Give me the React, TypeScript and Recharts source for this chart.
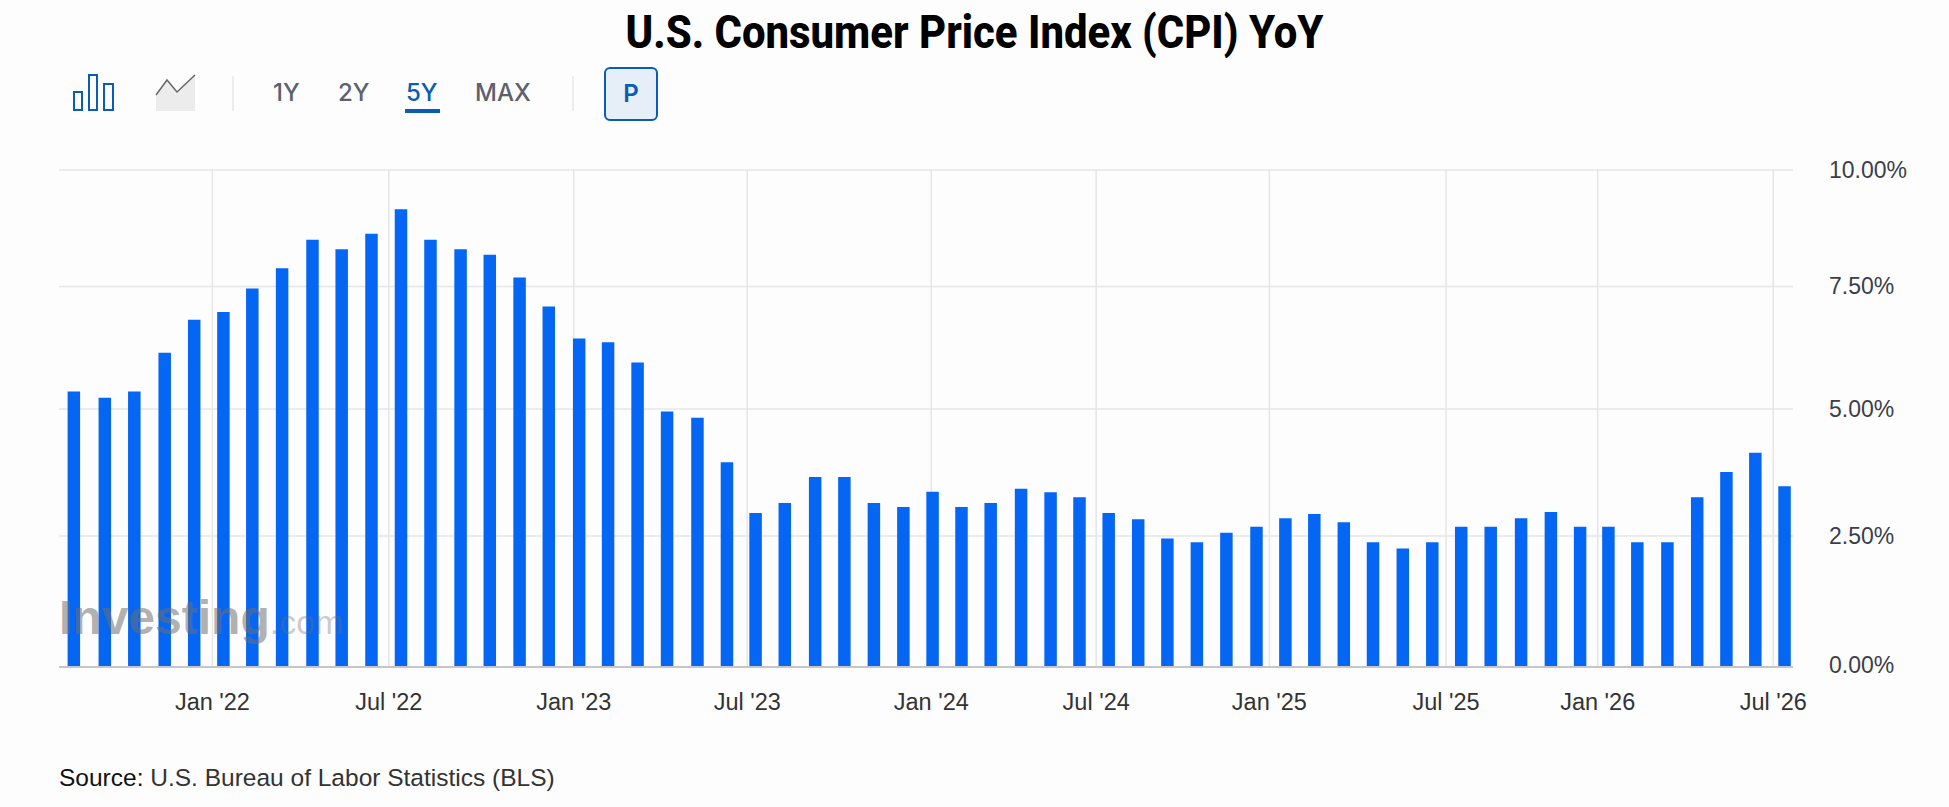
import { Bar, BarChart, CartesianGrid, XAxis, YAxis } from 'recharts';

// CPI YoY per release, oldest first
const cpiValues = [
    5.36, 5.23, 5.36, 6.15, 6.82, 6.98, 7.46, 7.89, 8.5, 8.3, 8.63, 9.16, 8.5,
    8.3, 8.18, 7.69, 7.09, 6.44, 6.36, 5.95, 4.95, 4.83, 3.95, 2.95, 3.15, 3.66,
    3.66, 3.15, 3.07, 3.37, 3.07, 3.15, 3.43, 3.36, 3.26, 2.95, 2.83, 2.45, 2.38,
    2.56, 2.68, 2.85, 2.93, 2.77, 2.38, 2.26, 2.38, 2.68, 2.68, 2.85, 2.97, 2.68,
    2.68, 2.38, 2.38, 3.26, 3.76, 4.14, 3.48,
];

// release time of each bar in months since the first one, releases are not evenly spaced
const releaseMonths = [
    0, 1.05, 2.05, 3.08, 4.08, 5.07, 6.05, 7.06, 8.09, 9.08, 10.09, 11.09, 12.09,
    13.11, 14.1, 15.11, 16.1, 17.13, 18.11, 19.11, 20.11, 21.14, 22.14, 23.11,
    24.1, 25.13, 26.12, 27.12, 28.12, 29.11, 30.09, 31.08, 32.11, 33.11, 34.09,
    35.08, 36.08, 37.07, 38.07, 39.07, 40.09, 41.07, 42.05, 43.05, 44.04, 45.05,
    46.05, 47.03, 48.03, 49.06, 50.07, 51.06, 52.02, 53.0, 54.02, 55.03, 56.02,
    57.0, 57.99,
];

const xTickLabels = [
    "Jan '22",
    "Jul '22",
    "Jan '23",
    "Jul '23",
    "Jan '24",
    "Jul '24",
    "Jan '25",
    "Jul '25",
    "Jan '26",
    "Jul '26",
];
const xTickValues = [
    4.7, 10.68, 16.95, 22.83, 29.07, 34.66, 40.53, 46.52, 51.66, 57.61,
];
const yTickValues = [0, 2.5, 5, 7.5, 10];
const rangeButtons = ['1Y', '2Y', '5Y', 'MAX'];

const chartData = cpiValues.map((value, i) => ({
    month: releaseMonths[i],
    value,
}));

// the picture's y axis is not quite even, so the scale goes tick to tick
const yTickFractions = [0, 0.2638, 0.519, 0.7657, 1];

function unevenScale(domain: number[] = [0, 10], range: number[] = [0, 1]) {
    const scale = (value: number) => {
        let i = 0;
        while (i < yTickValues.length - 2 && value > yTickValues[i + 1]) i++;
        const t =
            (value - yTickValues[i]) / (yTickValues[i + 1] - yTickValues[i]);
        const f =
            yTickFractions[i] +
            t * (yTickFractions[i + 1] - yTickFractions[i]);
        return range[0] + f * (range[1] - range[0]);
    };
    scale.domain = (d?: number[]) => (d ? unevenScale(d, range) : domain);
    scale.range = (r?: number[]) => (r ? unevenScale(domain, r) : range);
    scale.copy = () => unevenScale(domain, range);
    scale.ticks = () => yTickValues;
    return scale;
}

const GRID = '#e6e6e6';
const BLUE = '#0b5cb5';
const SANS = '"Liberation Sans", Arial, sans-serif';

function YTick({ x, y, payload }: any) {
    return (
        <text
            x={x}
            y={payload.value === 0 ? y - 2 : y}
            dy={8}
            fontSize={23}
            fontFamily={SANS}
            fill="#3a3f4a"
        >
            {`${payload.value.toFixed(2)}%`}
        </text>
    );
}

function Toolbar() {
    return (
        <>
            <svg
                width={660}
                height={130}
                style={{ position: 'absolute', left: 0, top: 0 }}
            >
                <g fill="none" stroke={BLUE} strokeWidth={2}>
                    <rect x={74} y={92} width={8} height={18} />
                    <rect x={89} y={75} width={8} height={35} />
                    <rect x={104} y={84} width={9} height={26} />
                </g>
                <path
                    d="M156 95 L167 80 L177 92 L195 75 L195 111 L156 111 Z"
                    fill="#ececec"
                />
                <path
                    d="M156 95 L167 80 L177 92 L195 75"
                    fill="none"
                    stroke="#666"
                    strokeWidth={1.5}
                />
                <line x1={233} y1={76} x2={233} y2={111} stroke="#ddd" />
                <line x1={573} y1={76} x2={573} y2={111} stroke="#ddd" />
                <rect x={405} y={109} width={35} height={4} fill={BLUE} />
                <rect
                    x={605}
                    y={68}
                    width={52}
                    height={52}
                    rx={5}
                    fill="#e6eef8"
                    stroke={BLUE}
                    strokeWidth={2}
                />
            </svg>
            {rangeButtons.map((label, i) => (
                <div
                    key={label}
                    style={{
                        position: 'absolute',
                        left: [273, 338, 406, 475][i],
                        top: 78,
                        font: '500 24px Inter',
                        color: label === '5Y' ? BLUE : '#5b616e',
                    }}
                >
                    {label}
                </div>
            ))}
            <div
                style={{
                    position: 'absolute',
                    left: 605,
                    width: 52,
                    top: 79,
                    textAlign: 'center',
                    font: '600 24px Inter',
                    color: BLUE,
                }}
            >
                P
            </div>
        </>
    );
}

export default function App() {
    return (
        <div
            style={{
                position: 'absolute',
                left: 0,
                top: 0,
                width: 1949,
                height: 807,
                background: '#fdfdfd',
                overflow: 'hidden',
            }}
        >
            <div
                style={{
                    position: 'absolute',
                    left: 0,
                    width: 1949,
                    top: 5,
                    textAlign: 'center',
                    font: '800 46px Roboto',
                    color: '#000',
                    transform: 'scaleX(0.91)',
                }}
            >
                U.S. Consumer Price Index (CPI) YoY
            </div>
            <Toolbar />
            <div style={{ position: 'absolute', left: 0, top: 0 }}>
                <BarChart
                    width={1949}
                    height={807}
                    data={chartData}
                    margin={{ top: 170, right: 0, bottom: 0, left: 59 }}
                >
                    <CartesianGrid
                        stroke={GRID}
                        strokeWidth={1.5}
                        syncWithTicks
                    />
                    <XAxis
                        dataKey="month"
                        type="number"
                        domain={[-0.5, 58.28]}
                        allowDataOverflow
                        ticks={xTickValues}
                        tickFormatter={(value: number) =>
                            xTickLabels[xTickValues.indexOf(value)]
                        }
                        interval={0}
                        height={140}
                        tickLine={false}
                        tickSize={0}
                        tickMargin={26}
                        axisLine={{ stroke: '#c6c6c6', strokeWidth: 2 }}
                        tick={{ fontSize: 23.5, fontFamily: SANS, fill: '#333' }}
                    />
                    <YAxis
                        orientation="right"
                        type="number"
                        scale={unevenScale() as any}
                        domain={[0, 10]}
                        ticks={yTickValues}
                        interval={0}
                        width={156}
                        tickLine={false}
                        tickSize={0}
                        tickMargin={36}
                        axisLine={false}
                        tick={<YTick />}
                    />
                    <Bar
                        dataKey="value"
                        fill="#0566f3"
                        barSize={12.5}
                        isAnimationActive={false}
                    />
                </BarChart>
            </div>
            <div
                style={{
                    position: 'absolute',
                    left: 59,
                    top: 590,
                    whiteSpace: 'nowrap',
                    color: 'rgba(110,110,110,0.55)',
                    fontFamily: SANS,
                }}
            >
                <span style={{ fontSize: 48, fontWeight: 700 }}>Investing</span>
                <span style={{ fontSize: 34, color: 'rgba(110,110,110,0.35)' }}>
                    .com
                </span>
            </div>
            <div
                style={{
                    position: 'absolute',
                    left: 59,
                    top: 764,
                    font: `24.5px ${SANS}`,
                    color: '#333',
                    whiteSpace: 'nowrap',
                }}
            >
                <span style={{ color: '#111' }}>Source:</span> U.S. Bureau of
                Labor Statistics (BLS)
            </div>
        </div>
    );
}
